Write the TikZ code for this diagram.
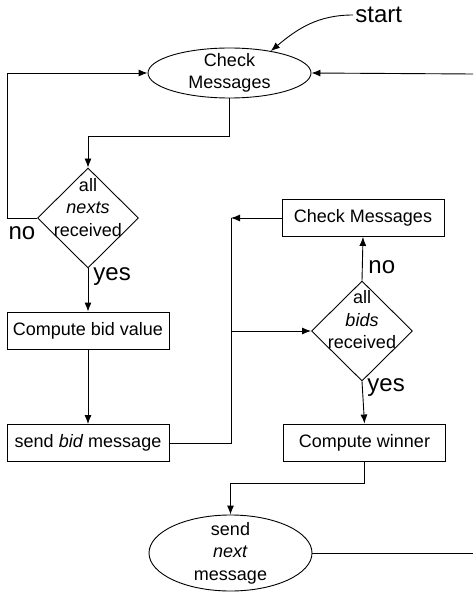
\documentclass[tikz,border=0pt]{standalone}
\usepackage{fontspec}
\setmainfont{Liberation Sans}
\usetikzlibrary{shapes.geometric,arrows.meta}

\tikzset{
  box/.style={draw, rectangle, minimum width=162pt, minimum height=37pt, inner sep=0pt},
  oval/.style={draw, ellipse, inner sep=-12pt, align=center},
  decision/.style={draw, diamond, minimum width=101pt, minimum height=100pt, inner sep=0pt},
  lbl/.style={font=\fontsize{24}{28}\selectfont, inner sep=2pt},
}

\begin{document}
\begin{tikzpicture}[x=1pt, y=-1pt, line width=0.9pt, >={Latex[length=9pt,width=7pt]},
    font=\fontsize{18}{22.5}\selectfont]
    \useasboundingbox (0,0) rectangle (473,593);

    % 開始(メッセージ確認)
    \node[oval, minimum width=163pt, minimum height=50pt] (chk1) at (229.5,73) {Check\\Messages};
    \node[lbl, anchor=west] (start) at (353,15) {start};
    \draw[->] (start.west) to[out=180, in=40] (chk1.28);

    % nexts の判定
    \node[decision] (d1) at (88,218) {};
    \node[align=center] (d1txt) at (88,207.5) {all\\\textit{nexts}\\received};
    \node[lbl] (no1) at (22,233) {no};
    \node[lbl, anchor=west] (yes1) at (91,277) {yes};

    % 入札側の処理
    \node[box] (bidval) at (88,330.5) {Compute bid value};
    \node[box] (sbid) at (88,443) {send \textit{bid} message};

    % bids の判定
    \node[box] (chk2) at (363,218) {Check Messages};
    \node[decision] (d2) at (362,331) {};
    \node[align=center] (d2txt) at (362,320) {all\\\textit{bids}\\received};
    \node[lbl, anchor=west] (no2) at (366,267) {no};
    \node[lbl, anchor=west] (yes2) at (365,388) {yes};
    \node[box] (winner) at (364.5,442.5) {Compute winner};

    % next メッセージ送信
    \node[oval, minimum width=163pt, minimum height=76pt] (snext) at (230.5,553) {send\\\textit{next}\\message};

    % 合流点と右端
    \coordinate (j) at (231,331);
    \coordinate (jt) at (chk2.west -| j);
    \coordinate (rtop) at (473,74);
    \coordinate (rbot) at (473,553);

    % 矢印
    \draw[->] (chk1.south) -- ++(0,38) -| (d1.north);
    \draw[->] (d1.west) -- ++(-30,0) |- (chk1.west);
    \draw[->] (rtop) -- (chk1.east);
    \draw[->] (d1.south) -- (bidval.north);
    \draw[->] (bidval.south) -- (sbid.north);
    \draw (sbid.east) -| (j);
    \draw[->] (chk2.west) -- (jt);
    \draw (jt) -- (j);
    \draw[->] (j) -- (d2.west);
    \draw[->] (d2.north) -- (chk2.south);
    \draw[->] (d2.south) -- (winner.north);
    \draw[->] (winner.south) -- ++(0,22) -| (snext.north);
    \draw (snext.east) -- (rbot);
\end{tikzpicture}
\end{document}
